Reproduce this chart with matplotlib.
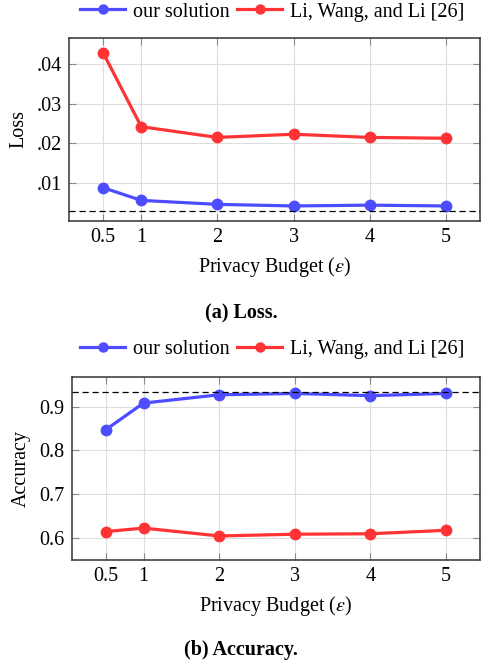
import matplotlib
matplotlib.use("Agg")
import matplotlib.pyplot as plt
from matplotlib.lines import Line2D

# data
budgets = [0.5, 1, 2, 3, 4, 5]
loss_ours = [0.0088, 0.0056, 0.0046, 0.0042, 0.0044, 0.0042]
loss_li = [0.0428, 0.0242, 0.0215, 0.0223, 0.0215, 0.0213]
loss_ref = 0.0029
acc_ours = [0.847, 0.908, 0.927, 0.930, 0.925, 0.930]
acc_li = [0.614, 0.622, 0.604, 0.608, 0.609, 0.617]
acc_ref = 0.933
loss_ticks = [0.01, 0.02, 0.03, 0.04]
loss_labels = [".01", ".02", ".03", ".04"]
acc_ticks = [0.6, 0.7, 0.8, 0.9]
acc_labels = ["0.6", "0.7", "0.8", "0.9"]
x_labels = ["0.5", "1", "2", "3", "4", "5"]
series = ["our solution", "Li, Wang, and Li [26]"]

BLUE = "#4d4dff"
RED = "#ff3333"
plt.rcParams["font.family"] = ["Liberation Serif", "DejaVu Serif"]
plt.rcParams["mathtext.fontset"] = "stix"
FS = 14.5

W, H = 482, 662
fig = plt.figure(figsize=(W / 100, H / 100), dpi=100)

def box(l, t, r, b):
    return [l / W, 1 - b / H, (r - l) / W, (b - t) / H]

def panel(rect, ours, li, ref, ylim, yt, yl, ylabel, legend_y, caption, cap_y):
    ax = fig.add_axes(box(*rect))
    ax.plot(budgets, ours, color=BLUE, lw=2.3, marker="o", ms=7.5, zorder=3)
    ax.plot(budgets, li, color=RED, lw=2.3, marker="o", ms=7.5, zorder=3)
    ax.axhline(ref, color="black", lw=0.9, ls=(0, (5, 3)), zorder=4)
    ax.set_xlim(0.05, 5.45)
    ax.set_ylim(*ylim)
    ax.set_xticks(budgets)
    ax.set_xticklabels(x_labels, fontsize=FS)
    ax.set_yticks(yt)
    ax.set_yticklabels(yl, fontsize=FS)
    ax.grid(True, color="#dddddd", lw=0.8)
    ax.set_axisbelow(True)
    ax.tick_params(direction="in", length=5, color="#888888", top=True, right=True, pad=5)
    for s in ax.spines.values():
        s.set_linewidth(1.1)
        s.set_color("#333333")
    ax.set_xlabel(r"Privacy Budget ($\epsilon$)", fontsize=FS, labelpad=6)
    ax.set_ylabel(ylabel, fontsize=FS, labelpad=6)
    handles = [Line2D([], [], color=BLUE, lw=2.3, marker="o", ms=6.5),
               Line2D([], [], color=RED, lw=2.3, marker="o", ms=6.5)]
    fig.legend(handles, series, loc="center", bbox_to_anchor=(0.565, 1 - legend_y / H),
               ncol=2, frameon=False, fontsize=FS, handlelength=2.2, handletextpad=0.4,
               columnspacing=0.4)
    fig.text(0.5, 1 - cap_y / H, caption, ha="center", va="center", fontsize=FS, fontweight="bold")
    return ax

panel((69, 38, 480, 221), loss_ours, loss_li, loss_ref, (0.0004, 0.0466),
      loss_ticks, loss_labels, "Loss", 12, "(a) Loss.", 313)
panel((71.7, 377.3, 480, 560), acc_ours, acc_li, acc_ref, (0.549, 0.967),
      acc_ticks, acc_labels, "Accuracy", 349, "(b) Accuracy.", 650)

fig.savefig("out.png", dpi=100)
